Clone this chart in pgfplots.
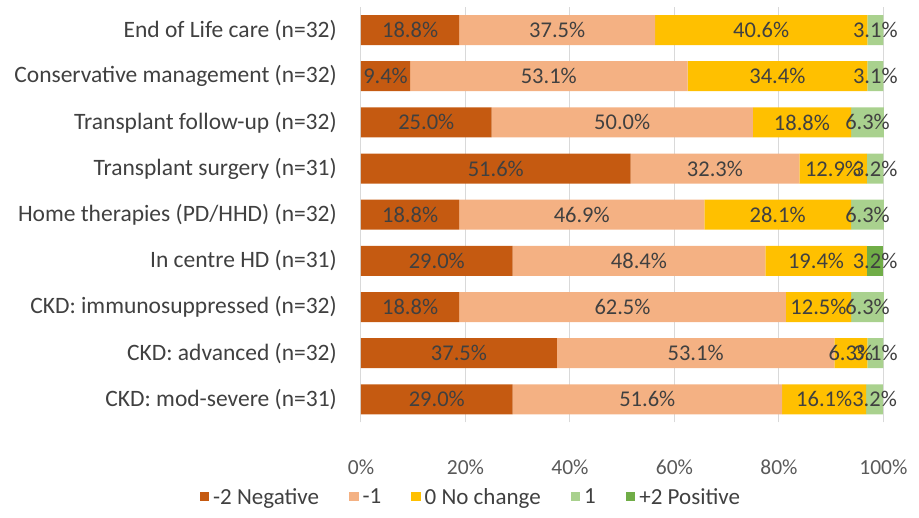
\documentclass[border=0pt]{standalone}
\usepackage{pgfplots}
\pgfplotsset{compat=1.18}
\usepackage{fontspec}
\setmainfont{Carlito}
\definecolor{cneg2}{HTML}{C55A11}
\definecolor{cneg1}{HTML}{F4B183}
\definecolor{czero}{HTML}{FFC000}
\definecolor{cpos1}{HTML}{A9D18E}
\definecolor{cpos2}{HTML}{70AD47}
\definecolor{txt}{HTML}{404040}
\definecolor{tick}{HTML}{595959}
\definecolor{grid}{HTML}{D9D9D9}
\begin{document}
\begin{tikzpicture}
\begin{axis}[
  scale only axis,
  width=523pt, height=415.5pt,
  xbar stacked,
  bar width=30pt,
  xmin=0, xmax=100.1,
  ymin=-0.5, ymax=8.5,
  xtick={0,20,40,60,80,100},
  xticklabels={0\%,20\%,40\%,60\%,80\%,100\%},
  ytick={0,...,8},
  yticklabels={CKD: mod-severe (n=31),CKD: advanced (n=32),CKD: immunosuppressed (n=32),In centre HD (n=31),Home therapies (PD/HHD) (n=32),Transplant surgery (n=31),Transplant follow-up (n=32),Conservative management (n=32),End of Life care (n=32)},
  major tick length=0pt,
  axis line style={draw=none},
  xmajorgrids,
  major grid style={draw=grid, line width=1pt},
  xticklabel style={font=\fontsize{21.5}{25}\selectfont, text=tick, anchor=center, yshift=-44.5pt},
  yticklabel style={font=\fontsize{23.5}{27}\selectfont, text=txt, anchor=east, inner sep=0pt, xshift=-24pt},
  point meta=rawx,
  nodes near coords={\pgfmathfloatifflags{\pgfplotspointmeta}{0}{}{\pgfmathprintnumber[fixed,precision=1,fixed zerofill,assume math mode=true]{\pgfplotspointmeta}\%}},
  every node near coord/.append style={font=\fontsize{22.5}{26}\selectfont, text=txt, anchor=center},
  legend columns=5,
  legend style={draw=none, fill=none, at={(0.21,-0.179)}, anchor=center, font=\fontsize{23}{27}\selectfont, text=txt,
    /tikz/every odd column/.append style={column sep=2pt},
    /tikz/every even column/.append style={column sep=28pt}},
  legend image code/.code={\fill[#1] (0pt,-4.5pt) rectangle (9.5pt,5pt);},
]
\addplot[fill=cneg2, draw=none] coordinates {(29.0,0) (37.5,1) (18.8,2) (29.0,3) (18.8,4) (51.6,5) (25.0,6) (9.4,7) (18.8,8)};
\addplot[fill=cneg1, draw=none] coordinates {(51.6,0) (53.1,1) (62.5,2) (48.4,3) (46.9,4) (32.3,5) (50.0,6) (53.1,7) (37.5,8)};
\addplot[fill=czero, draw=none] coordinates {(16.1,0) (6.3,1) (12.5,2) (19.4,3) (28.1,4) (12.9,5) (18.8,6) (34.4,7) (40.6,8)};
\addplot[fill=cpos1, draw=none] coordinates {(3.2,0) (3.1,1) (6.3,2) (0,3) (6.3,4) (3.2,5) (6.3,6) (3.1,7) (3.1,8)};
\addplot[fill=cpos2, draw=none] coordinates {(0,0) (0,1) (0,2) (3.2,3) (0,4) (0,5) (0,6) (0,7) (0,8)};
\legend{-2 Negative,-1,0 No change,1,+2 Positive}
\end{axis}
\pgfresetboundingbox
\useasboundingbox (-361pt,-95.5pt) rectangle (558pt,422.5pt);
\end{tikzpicture}
\end{document}
